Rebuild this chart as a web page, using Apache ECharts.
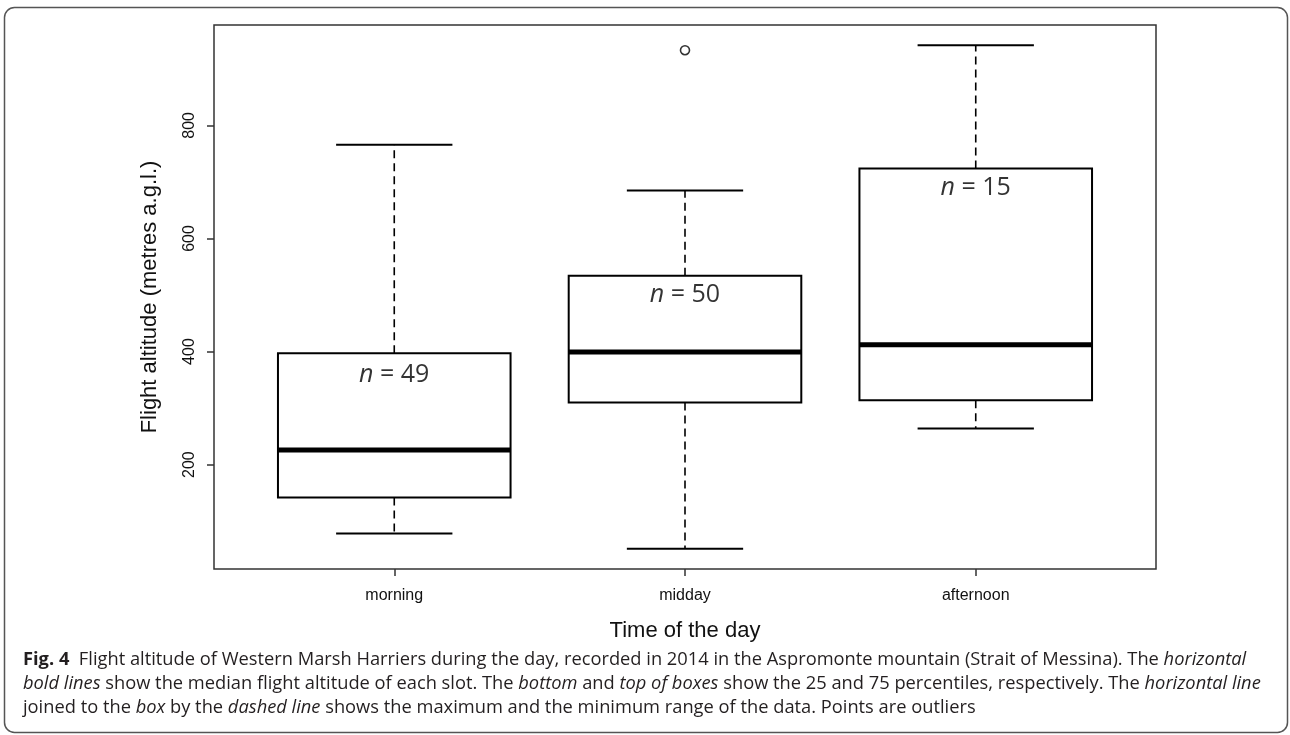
<!DOCTYPE html>
<html>
<head>
<meta charset="utf-8">
<script src="https://cdn.jsdelivr.net/npm/echarts@6/dist/echarts.min.js"></script>
<style>
html,body{margin:0;padding:0;background:#fff;}
#chart{width:1290px;height:735px;}
</style>
</head>
<body>
<div id="chart"></div>
<script>
// ---- data ----
const categories = ['morning', 'midday', 'afternoon'];
const whiskerLow = [78, 51, 264];
const q1 = [142, 310, 314];
const medians = [226, 399, 412];
const q3 = [397, 534, 724];
const whiskerHigh = [766, 685, 942];
const outlierCategory = ['midday'];
const outlierValues = [933];
const sampleSizes = [49, 50, 15];
const sampleLabelY = [359, 501, 690];
const yTicks = [200, 400, 600, 800];
const xTicks = [1, 2, 3];

const boxData = categories.map((c, i) => [i + 1, whiskerLow[i], q1[i], medians[i], q3[i], whiskerHigh[i]]);
const outlierData = outlierCategory.map((c, i) => [categories.indexOf(c) + 1, outlierValues[i]]);
const nData = categories.map((c, i) => ({ value: [i + 1, sampleLabelY[i]], n: sampleSizes[i] }));

const chart = echarts.init(document.getElementById('chart'));

function renderBox(params, api) {
  const x = api.value(0);
  const lo = api.value(1), a = api.value(2), m = api.value(3), b = api.value(4), hi = api.value(5);
  const boxW = api.size([0.8, 0])[0];
  const capW = api.size([0.4, 0])[0];
  const pLo = api.coord([x, lo]), pA = api.coord([x, a]), pM = api.coord([x, m]), pB = api.coord([x, b]), pHi = api.coord([x, hi]);
  const cx = pM[0];
  const solid = { stroke: '#000', lineWidth: 2, fill: null };
  const dashed = { stroke: '#000', lineWidth: 1.6, lineDash: [8, 5], fill: null };
  return {
    type: 'group',
    children: [
      { type: 'line', shape: { x1: cx, y1: pB[1], x2: cx, y2: pHi[1] }, style: dashed },
      { type: 'line', shape: { x1: cx, y1: pA[1], x2: cx, y2: pLo[1] }, style: dashed },
      { type: 'line', shape: { x1: cx - capW / 2, y1: pHi[1], x2: cx + capW / 2, y2: pHi[1] }, style: solid },
      { type: 'line', shape: { x1: cx - capW / 2, y1: pLo[1], x2: cx + capW / 2, y2: pLo[1] }, style: solid },
      { type: 'rect', shape: { x: cx - boxW / 2, y: pB[1], width: boxW, height: pA[1] - pB[1] }, style: { stroke: '#000', lineWidth: 2, fill: 'rgba(255,255,255,0)' } },
      { type: 'line', shape: { x1: cx - boxW / 2, y1: pM[1], x2: cx + boxW / 2, y2: pM[1] }, style: { stroke: '#000', lineWidth: 5 } }
    ]
  };
}

const capFont = '"Open Sans", "Noto Sans", sans-serif';
const capSize = 18.3;
const capStyle = { fontFamily: capFont, fontSize: capSize, fill: '#231f20' };
const capRich = {
  b: { fontFamily: capFont, fontSize: capSize, fontWeight: 'bold', fill: '#231f20' },
  i: { fontFamily: capFont, fontSize: capSize, fontStyle: 'italic', fill: '#231f20' }
};
const captionLines = [
  '{b|Fig. 4}  Flight altitude of Western Marsh Harriers during the day, recorded in 2014 in the Aspromonte mountain (Strait of Messina). The {i|horizontal}',
  '{i|bold lines} show the median flight altitude of each slot. The {i|bottom} and {i|top of boxes} show the 25 and 75 percentiles, respectively. The {i|horizontal line}',
  'joined to the {i|box} by the {i|dashed line} shows the maximum and the minimum range of the data. Points are outliers'
];
const captionY = [659, 683, 707];

const option = {
  animation: false,
  backgroundColor: '#fff',
  grid: {
    left: 214, top: 25, width: 942, height: 544,
    show: true, borderColor: '#333', borderWidth: 1.5, backgroundColor: 'transparent'
  },
  xAxis: {
    type: 'value', min: 0.38, max: 3.62,
    splitLine: { show: false },
    axisLine: { show: false },
    axisTick: { show: true, customValues: xTicks, length: 7, lineStyle: { color: '#333', width: 1.5 } },
    axisLabel: {
      customValues: xTicks, margin: 19, fontSize: 16, color: '#111',
      fontFamily: '"Liberation Sans", Arial, sans-serif',
      formatter: v => categories[Math.round(v) - 1] || ''
    },
    name: 'Time of the day', nameLocation: 'middle', nameGap: 51,
    nameTextStyle: { fontSize: 22, color: '#111', fontFamily: '"Liberation Sans", Arial, sans-serif' }
  },
  yAxis: {
    type: 'value', min: 15.4, max: 977.6,
    splitLine: { show: false },
    axisLine: { show: false },
    axisTick: { show: true, customValues: yTicks, length: 7, lineStyle: { color: '#333', width: 1.5 } },
    axisLabel: {
      customValues: yTicks, rotate: 90, margin: 16, fontSize: 16, color: '#111',
      fontFamily: '"Liberation Sans", Arial, sans-serif'
    },
    name: 'Flight altitude (metres a.g.l.)', nameLocation: 'middle', nameGap: 53,
    nameTextStyle: { fontSize: 22, color: '#111', fontFamily: '"Liberation Sans", Arial, sans-serif' }
  },
  series: [
    {
      type: 'custom', renderItem: renderBox, data: boxData, clip: false,
      encode: { x: 0, y: [1, 2, 3, 4, 5] }, silent: true
    },
    {
      type: 'scatter', data: outlierData, symbol: 'circle', symbolSize: 9,
      itemStyle: { color: '#fff', borderColor: '#000', borderWidth: 1.6 }, silent: true
    },
    {
      type: 'scatter', data: nData, symbolSize: 0, silent: true,
      label: {
        show: true, position: 'inside',
        formatter: p => '{n|n} = ' + p.data.n,
        fontFamily: capFont, fontSize: 25, color: '#000',
        rich: { n: { fontFamily: capFont, fontSize: 25, fontStyle: 'italic', color: '#000' } }
      }
    }
  ],
  graphic: [
    {
      type: 'rect', silent: true,
      shape: { x: 4.5, y: 7.5, width: 1283, height: 725, r: 10 },
      style: { fill: null, stroke: '#555', lineWidth: 1.5 }
    }
  ].concat(captionLines.map((t, i) => ({
    type: 'text', left: 23, top: captionY[i] - 8, silent: true,
    style: Object.assign({}, capStyle, { text: t, rich: capRich })
  })))
};

chart.setOption(option);
</script>
</body>
</html>
